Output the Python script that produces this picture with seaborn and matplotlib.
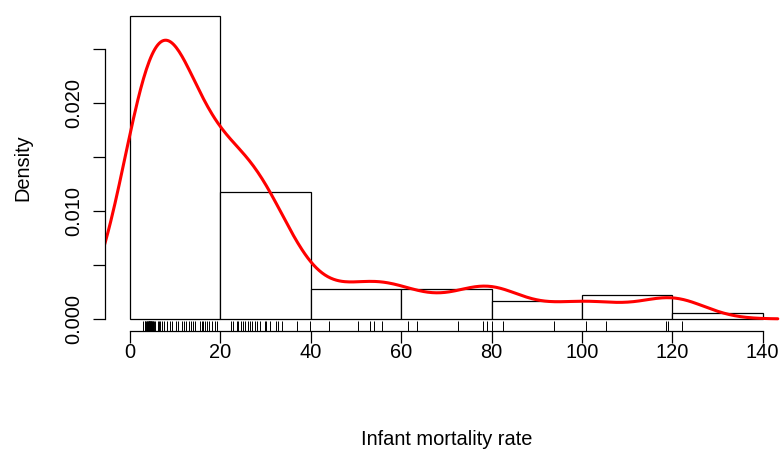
import numpy as np
import pandas as pd
import matplotlib
matplotlib.use("Agg")
import matplotlib.pyplot as plt
import seaborn as sns

# Infant mortality rate values
bin_0_20 = [2.95, 3.25, 3.4, 3.6, 3.7, 3.8, 3.9, 4.0, 4.1, 4.15, 4.2, 4.3, 4.35,
            4.4, 4.5, 4.55, 4.6, 4.7, 4.8, 4.9, 5.0, 5.1, 5.3, 5.5, 6.1, 6.4,
            6.6, 7.0, 7.6, 8.1, 8.8, 9.4, 10.1, 10.7, 11.4, 12.0, 12.5, 13.1,
            13.6, 14.0, 14.4, 15.5, 15.9, 16.2, 16.6, 17.0, 17.5, 18.1, 18.7,
            19.2]
bin_20_40 = [22.3, 22.7, 23.6, 24.0, 24.6, 25.1, 25.4, 26.2, 26.5, 27.1, 27.7,
             28.2, 28.8, 29.9, 30.2, 31.0, 32.4, 32.8, 33.6, 36.9, 39.8]
bin_40_60 = [44.1, 50.5, 53.2, 54.0, 55.7]
bin_60_80 = [61.6, 63.4, 72.6, 78.0, 78.9]
bin_80_100 = [80.2, 82.6, 93.9]
bin_100_120 = [100.8, 105.4, 118.6, 119.1]
bin_120_140 = [122.2]

bin_edges = [0, 20, 40, 60, 80, 100, 120, 140]
x_ticks = [0, 20, 40, 60, 80, 100, 120, 140]
y_ticks = [0.000, 0.005, 0.010, 0.015, 0.020, 0.025]
y_tick_labels = ["0.000", "", "0.010", "", "0.020", ""]

values = np.array(bin_0_20 + bin_20_40 + bin_40_60 + bin_60_80 + bin_80_100
                  + bin_100_120 + bin_120_140)
df = pd.DataFrame({"infant": values})

sns.set_style("white")
plt.rcParams["font.family"] = ["Liberation Sans", "DejaVu Sans"]

fig = plt.figure(figsize=(7.82, 4.5), dpi=100)
ax = fig.add_axes([104.7 / 782, 1 - 331 / 450, (788 - 104.7) / 782, 327 / 450])

sns.histplot(data=df, x="infant", bins=bin_edges, stat="density",
             color="white", edgecolor="black", linewidth=0.9, alpha=1,
             ax=ax)

# R's bw.nrd0-like bandwidth
n = len(values)
sd = values.std(ddof=1)
iqr = np.subtract(*np.percentile(values, [75, 25]))
bw = 0.9 * min(sd, iqr / 1.34) * n ** (-0.2)
sns.kdeplot(data=df, x="infant", bw_method=bw / sd, bw_adjust=0.95, cut=3,
            color="red", linewidth=2.2, ax=ax, gridsize=512)
sns.rugplot(data=df, x="infant", height=0.03, color="black", linewidth=0.7,
            ax=ax)

m = max(np.histogram(values, bins=bin_edges, density=True)[0])
ax.set_xlim(-5.6, 145.6)
ax.set_ylim(-0.04 * m, 1.04 * m)

for s in ["top", "right"]:
    ax.spines[s].set_visible(False)
for s in ["left", "bottom"]:
    ax.spines[s].set_color("black")
    ax.spines[s].set_linewidth(0.9)
ax.spines["bottom"].set_bounds(0, 140)
ax.spines["left"].set_bounds(0, 0.025)

ax.set_xticks(x_ticks)
ax.set_xticklabels([str(t) for t in x_ticks])
ax.set_yticks(y_ticks)
ax.set_yticklabels(y_tick_labels, rotation=90, va="center")
ax.tick_params(axis="both", direction="out", length=8.6, width=0.9,
               color="black", labelsize=14.4, labelcolor="black",
               left=True, bottom=True)
ax.tick_params(axis="x", pad=0)
ax.tick_params(axis="y", pad=7)

ax.set_xlabel("Infant mortality rate", fontsize=14.4, labelpad=49,
              color="black")
ax.set_ylabel("Density", fontsize=14.4, labelpad=23, color="black")
ax.grid(False)

fig.savefig("out.png", dpi=100)
